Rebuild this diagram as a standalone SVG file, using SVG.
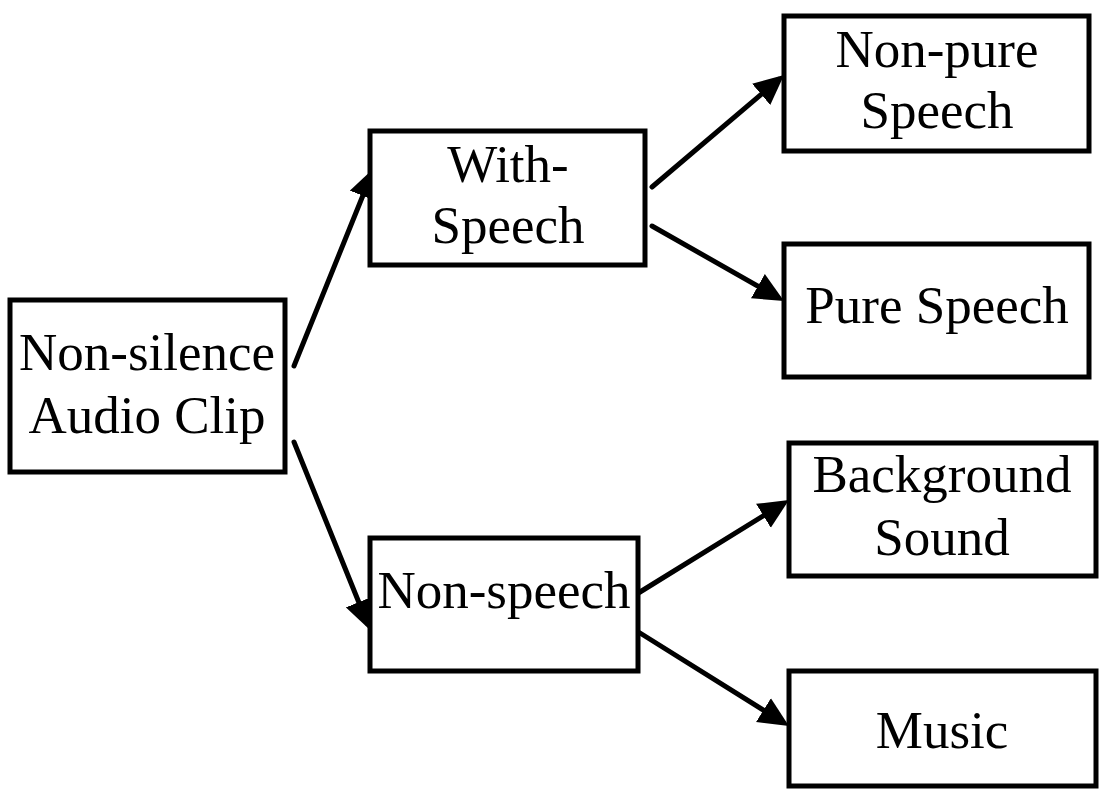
<svg xmlns="http://www.w3.org/2000/svg" width="1101" height="795" viewBox="0 0 1101 795">
  <defs>
    <style>
      .box { fill: #ffffff; stroke: #000000; stroke-width: 5; }
      .lbl { font-family: "Liberation Serif", "Times New Roman", "DejaVu Serif", serif; font-size: 53px; fill: #000000; text-anchor: middle; }
      .edge { stroke: #000000; stroke-width: 5; stroke-linecap: round; fill: none; marker-end: url(#arrow); }
    </style>
    <marker id="arrow" markerUnits="userSpaceOnUse" markerWidth="31" markerHeight="29" viewBox="0 0 31 29" refX="23" refY="14.5" orient="auto">
      <path d="M0,0.5 L30,14.5 L0,28.5 z" fill="#000000"/>
    </marker>
  </defs>
  <rect width="1101" height="795" fill="#ffffff"/>

  <g id="connectors">
    <line class="edge" x1="294" y1="366" x2="371.4" y2="174.5"/>
    <line class="edge" x1="294" y1="442" x2="367.4" y2="623.5"/>
    <line class="edge" x1="652" y1="187" x2="778.7" y2="79.5"/>
    <line class="edge" x1="652" y1="226" x2="777.9" y2="297.5"/>
    <line class="edge" x1="640" y1="592" x2="783" y2="503.7"/>
    <line class="edge" x1="640" y1="633" x2="783" y2="722.3"/>
  </g>

  <g id="node-root">
    <rect class="box" x="10" y="300" width="275" height="172"/>
    <text class="lbl" x="147" y="370">Non-silence</text>
    <text class="lbl" x="147" y="433">Audio Clip</text>
  </g>

  <g id="node-with-speech">
    <rect class="box" x="370" y="131" width="275" height="134"/>
    <text class="lbl" x="508" y="182">With-</text>
    <text class="lbl" x="508" y="243">Speech</text>
  </g>

  <g id="node-non-speech">
    <rect class="box" x="370" y="538" width="268" height="133"/>
    <text class="lbl" x="504" y="608">Non-speech</text>
  </g>

  <g id="node-non-pure-speech">
    <rect class="box" x="784" y="16" width="305" height="135"/>
    <text class="lbl" x="937" y="67">Non-pure</text>
    <text class="lbl" x="937" y="128">Speech</text>
  </g>

  <g id="node-pure-speech">
    <rect class="box" x="784" y="244" width="305" height="133"/>
    <text class="lbl" x="937" y="323">Pure Speech</text>
  </g>

  <g id="node-background-sound">
    <rect class="box" x="789" y="443" width="307" height="133"/>
    <text class="lbl" x="942" y="492">Background</text>
    <text class="lbl" x="942" y="555">Sound</text>
  </g>

  <g id="node-music">
    <rect class="box" x="789" y="671" width="307" height="115"/>
    <text class="lbl" x="942" y="748">Music</text>
  </g>
</svg>
